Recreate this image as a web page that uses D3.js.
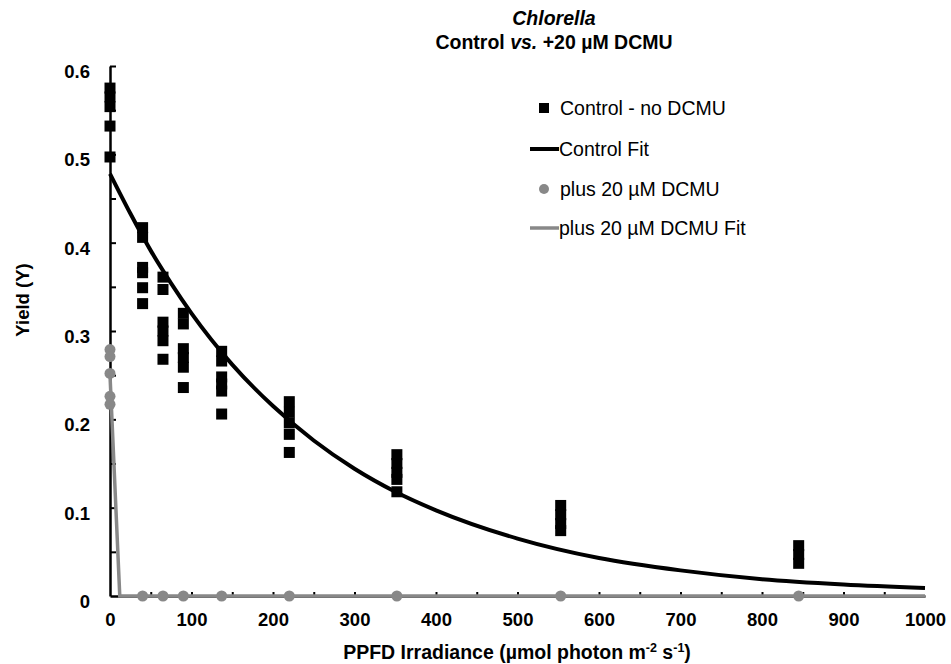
<!DOCTYPE html>
<html>
<head>
<meta charset="utf-8">
<script src="https://cdn.jsdelivr.net/npm/d3@7"></script>
<style>
  html, body { margin: 0; padding: 0; background: #fff; }
  svg { display: block; font-family: "Liberation Sans", Arial, sans-serif; }
</style>
</head>
<body>
<svg id="chart" width="951" height="664"></svg>
<script>
// ---------- data ----------
const controlX = [
  0, 0, 0, 0, 0,
  40, 40, 40, 40, 40, 40,
  65, 65, 65, 65, 65, 65,
  90, 90, 90, 90, 90, 90,
  137, 137, 137, 137, 137, 137,
  220, 220, 220, 220, 220,
  352, 352, 352, 352, 352,
  553, 553, 553, 553,
  845, 845, 845
];
const controlY = [
  0.575, 0.565, 0.554, 0.532, 0.497,
  0.417, 0.406, 0.372, 0.366, 0.349, 0.331,
  0.361, 0.347, 0.310, 0.300, 0.289, 0.268,
  0.320, 0.308, 0.280, 0.270, 0.259, 0.236,
  0.277, 0.266, 0.248, 0.240, 0.232, 0.206,
  0.220, 0.208, 0.196, 0.183, 0.1625,
  0.160, 0.150, 0.140, 0.132, 0.118,
  0.1025, 0.092, 0.082, 0.074,
  0.057, 0.047, 0.037
];
const dcmuX = [0, 0, 0, 0, 0, 40, 65, 90, 137, 220, 352, 553, 845];
const dcmuY = [0.279, 0.271, 0.252, 0.226, 0.217, 0, 0, 0, 0, 0, 0, 0, 0];

// fitted curves
const controlFitX = [0, 25, 50, 75, 100, 150, 200, 250, 300, 350, 400, 500, 600, 700, 800, 900, 1000];
const controlFitY = [0.478, 0.433, 0.391, 0.354, 0.320, 0.262, 0.215, 0.176, 0.144, 0.118, 0.097, 0.065, 0.043, 0.029, 0.019, 0.013, 0.009];
const dcmuFitX = [0, 12, 1000];
const dcmuFitY = [0.25, 0, 0];

const xTickLabels = [0, 100, 200, 300, 400, 500, 600, 700, 800, 900, 1000];
const xMinorTicks = [50, 100, 150, 200, 250, 300, 350, 400, 450, 500, 550, 600, 650, 700, 750, 800, 850, 900, 950];
const yTickLabels = [0, 0.1, 0.2, 0.3, 0.4, 0.5, 0.6];
const yMinorTicks = [0.05, 0.1, 0.15, 0.2, 0.25, 0.3, 0.35, 0.4, 0.45, 0.5, 0.55, 0.6];

const legendLabels = ["Control - no DCMU", "Control Fit", "plus 20 \u00b5M DCMU", "plus 20 \u00b5M DCMU Fit"];

// ---------- layout ----------
const svg = d3.select("#chart");
const plotL = 110, plotR = 925, plotT = 66, plotB = 596;
const black = "#000", grey = "#888888";

const x = d3.scaleLinear().domain([0, 1000]).range([plotL, plotR]);
const y = d3.scaleLinear().domain([0, 0.6]).range([plotB, plotT]);

// ---------- axes ----------
const yLab = svg.append("g").attr("transform", `translate(${plotL},0)`)
  .call(d3.axisLeft(y).tickValues(yTickLabels).tickSize(0).tickPadding(20)
    .tickFormat(d => d === 0 ? "0" : d3.format(".1f")(d)));
yLab.select(".domain").remove();
yLab.selectAll("text").attr("font-size", "18.5px").attr("font-weight", "bold")
  .attr("fill", "#000").attr("font-family", "Liberation Sans, Arial, sans-serif")
  .attr("dy", "0.62em");

const yTk = svg.append("g").attr("transform", `translate(${plotL},0)`)
  .call(d3.axisLeft(y).tickValues(yMinorTicks).tickSizeInner(-6).tickSizeOuter(0).tickFormat(""));
yTk.select(".domain").attr("stroke", black).attr("stroke-width", 2.5);
yTk.selectAll(".tick line").attr("stroke", black).attr("stroke-width", 2);

const xLab = svg.append("g").attr("transform", `translate(0,${plotB})`)
  .call(d3.axisBottom(x).tickValues(xTickLabels).tickSize(0).tickPadding(17)
    .tickFormat(d3.format("d")));
xLab.select(".domain").remove();
xLab.selectAll("text").attr("font-size", "18.5px").attr("font-weight", "bold")
  .attr("fill", "#000").attr("font-family", "Liberation Sans, Arial, sans-serif");

const xTk = svg.append("g").attr("transform", `translate(0,${plotB})`)
  .call(d3.axisBottom(x).tickValues(xMinorTicks).tickSizeInner(-4).tickSizeOuter(0).tickFormat(""));
xTk.select(".domain").attr("stroke", black).attr("stroke-width", 2.5);
xTk.selectAll(".tick line").attr("stroke", black).attr("stroke-width", 2);

// ---------- fit lines ----------
const line = d3.line().x(d => x(d[0])).y(d => y(d[1]));
svg.append("path")
  .datum(controlFitX.map((v, i) => [v, controlFitY[i]]))
  .attr("d", line.curve(d3.curveMonotoneX))
  .attr("fill", "none").attr("stroke", black).attr("stroke-width", 4);

// ---------- control points ----------
const sq = 11;
svg.append("g").selectAll("rect")
  .data(controlX.map((v, i) => [v, controlY[i]]))
  .join("rect")
  .attr("x", d => x(d[0]) - sq / 2).attr("y", d => y(d[1]) - sq / 2)
  .attr("width", sq).attr("height", sq).attr("fill", black);

// ---------- DCMU points + fit ----------
svg.append("g").selectAll("circle")
  .data(dcmuX.map((v, i) => [v, dcmuY[i]]))
  .join("circle")
  .attr("cx", d => x(d[0])).attr("cy", d => y(d[1])).attr("r", 5.5)
  .attr("fill", grey);

svg.append("path")
  .datum(dcmuFitX.map((v, i) => [v, dcmuFitY[i]]))
  .attr("d", d3.line().x(d => x(d[0])).y(d => y(d[1])))
  .attr("fill", "none").attr("stroke", grey).attr("stroke-width", 3.5);

// ---------- titles ----------
svg.append("text").attr("x", 554).attr("y", 25).attr("text-anchor", "middle")
  .attr("font-weight", "bold").attr("font-style", "italic").attr("font-size", "19.5px")
  .text("Chlorella");
const t2 = svg.append("text").attr("x", 554).attr("y", 49).attr("text-anchor", "middle")
  .attr("font-weight", "bold").attr("font-size", "19.5px");
t2.append("tspan").text("Control ");
t2.append("tspan").attr("font-style", "italic").text("vs.");
t2.append("tspan").text(" +20 \u00b5M DCMU");

svg.append("text")
  .attr("transform", "translate(29,300) rotate(-90)")
  .attr("text-anchor", "middle").attr("font-weight", "bold").attr("font-size", "18.5px")
  .text("Yield (Y)");

const xt = svg.append("text").attr("x", 517).attr("y", 659)
  .attr("text-anchor", "middle").attr("font-weight", "bold").attr("font-size", "19.5px");
xt.append("tspan").text("PPFD Irradiance (\u00b5mol photon m");
xt.append("tspan").attr("font-size", "12.5px").attr("dy", "-7").text("-2");
xt.append("tspan").attr("dy", "7").text(" s");
xt.append("tspan").attr("font-size", "12.5px").attr("dy", "-7").text("-1");
xt.append("tspan").attr("dy", "7").text(")");

// ---------- legend ----------
const lg = svg.append("g").attr("font-size", "19.5px");
const lgY = [108, 149, 189, 228];
const mx = 544, tx = 559;
lg.append("rect").attr("x", mx - 5).attr("y", lgY[0] - 5).attr("width", 10).attr("height", 10).attr("fill", black);
lg.append("line").attr("x1", mx - 14).attr("x2", tx).attr("y1", lgY[1]).attr("y2", lgY[1])
  .attr("stroke", black).attr("stroke-width", 4);
lg.append("circle").attr("cx", mx).attr("cy", lgY[2]).attr("r", 5).attr("fill", grey);
lg.append("line").attr("x1", mx - 14).attr("x2", tx).attr("y1", lgY[3]).attr("y2", lgY[3])
  .attr("stroke", grey).attr("stroke-width", 3.5);
lg.selectAll("text.lab").data(legendLabels).join("text").attr("class", "lab")
  .attr("x", (d, i) => (i % 2 === 1 ? tx : tx + 1)).attr("y", (d, i) => lgY[i])
  .attr("dy", "0.35em").attr("fill", "#000").text(d => d);
</script>
</body>
</html>
